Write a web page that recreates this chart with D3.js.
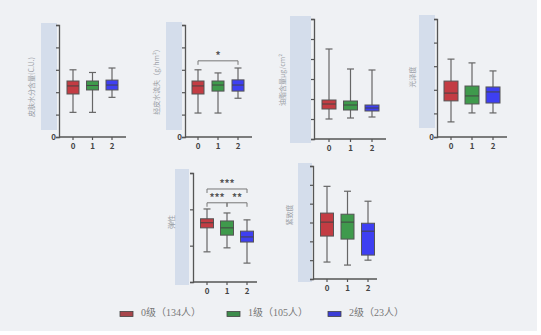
<!DOCTYPE html>
<html>
<head>
<meta charset="utf-8">
<script src="https://cdn.jsdelivr.net/npm/d3@7"></script>
<style>
  html, body { margin: 0; padding: 0; background: #fff; }
  svg { display: block; }
  text { font-family: "Noto Sans CJK SC", "Noto Sans", sans-serif; }
</style>
</head>
<body>
<div id="chart"></div>
<script>
const groups = ['0', '1', '2'];
const legendLabels = ['0级（134人）', '1级（105人）', '2级（23人）'];
const groupColors = ['#c33c43', '#3f9a4c', '#3e3ff2'];
const legendColors = ['#a8464c', '#3d8c4c', '#3b3dd6'];

const panelLabels = ['皮肤水分含量(C.U.)', '经皮水流失（g/hm²）', '油脂含量μg/cm²', '光泽度', '弹性', '紧致度'];

// each box: [whisker low, q1, median, q3, whisker high]
const moisture = [[1.1, 1.92, 2.28, 2.5, 3.0], [1.1, 2.1, 2.3, 2.5, 2.88], [1.77, 2.1, 2.32, 2.54, 3.08]];
const waterLoss = [[1.07, 1.92, 2.28, 2.5, 3.0], [1.07, 2.05, 2.32, 2.5, 2.86], [1.73, 2.05, 2.32, 2.55, 3.08]];
const sebum = [[1.0, 1.5, 1.75, 1.95, 4.5], [1.05, 1.45, 1.7, 1.9, 3.5], [1.1, 1.4, 1.55, 1.7, 3.45]];
const gloss = [[0.64, 1.53, 1.86, 2.37, 3.3], [1.02, 1.4, 1.74, 2.16, 3.14], [1.02, 1.44, 1.91, 2.12, 2.8]];
const elasticity = [[0.83, 1.49, 1.63, 1.74, 2.01], [0.94, 1.29, 1.49, 1.68, 1.9], [0.52, 1.1, 1.24, 1.4, 1.71]];
const firmness = [[0.9, 2.28, 3.02, 3.5, 4.92], [0.74, 2.12, 3.02, 3.44, 4.66], [1.0, 1.27, 2.54, 2.96, 4.13]];

const panelData = [moisture, waterLoss, sebum, gloss, elasticity, firmness];
const panelMax = [5, 5, 6, 5, 3, 6];

// significance brackets: [panel, from group, to group, height (data units), label]
const brackets = [
  [1, 0, 2, 3.4, '*'],
  [4, 0, 2, 2.56, '***'],
  [4, 0, 1, 2.18, '***'],
  [4, 1, 2, 2.18, '**'],
];

const WIDTH = 541;
const HEIGHT = 335;

const layout = [
  { ax: 59, top: 25, bottom: 137, xEnd: 126, c0: 73, c2: 112, zero: true, band: [41, 57, 23, 130], label: [32, 87], boxW: 12 },
  { ax: 185, top: 25, bottom: 137, xEnd: 252, c0: 198, c2: 238, zero: true, band: [166, 182, 22, 130], label: [157, 80], boxW: 12 },
  { ax: 314, top: 19, bottom: 139, xEnd: 386, c0: 329, c2: 372, zero: false, band: [290, 311, 16, 143], label: [283, 80], boxW: 14 },
  { ax: 437, top: 19, bottom: 137, xEnd: 507, c0: 451, c2: 493, zero: true, band: [419, 435, 15, 128], label: [413, 77], boxW: 14 },
  { ax: 193, top: 173, bottom: 282, xEnd: 257, c0: 207, c2: 247, zero: false, band: [175, 189, 169, 285], label: [172, 222], boxW: 13 },
  { ax: 313, top: 166, bottom: 279, xEnd: 377, c0: 327, c2: 368, zero: false, band: [298, 312, 163, 282], label: [290, 215], boxW: 13 },
];

const svg = d3.select('#chart')
  .append('svg')
  .attr('width', WIDTH)
  .attr('height', HEIGHT);

svg.append('rect')
  .attr('width', 537)
  .attr('height', 331)
  .attr('fill', '#eff1f4');

const axisColor = '#555';

layout.forEach((p, i) => {
  const g = svg.append('g');
  const y = d3.scaleLinear().domain([0, panelMax[i]]).range([p.bottom, p.top]);
  const x = d3.scalePoint().domain(groups).range([p.c0, p.c2]);

  g.append('rect')
    .attr('x', p.band[0])
    .attr('y', p.band[2])
    .attr('width', p.band[1] - p.band[0])
    .attr('height', p.band[3] - p.band[2])
    .attr('fill', '#d4ddeb');

  g.append('text')
    .attr('transform', `translate(${p.label[0]}, ${p.label[1]}) rotate(-90)`)
    .attr('text-anchor', 'middle')
    .attr('dominant-baseline', 'middle')
    .attr('font-size', 7)
    .attr('fill', '#9a9ea6')
    .text(panelLabels[i]);

  const yAxis = g.append('g')
    .attr('transform', `translate(${p.ax}, 0)`)
    .call(d3.axisLeft(y).ticks(panelMax[i]).tickSize(3).tickFormat((d) => (d === 0 && p.zero ? '0' : '')));
  yAxis.select('.domain').attr('stroke', axisColor).attr('stroke-width', 1.3);
  yAxis.selectAll('.tick line').attr('stroke', axisColor).attr('stroke-width', 1.2);
  yAxis.selectAll('.tick text').attr('fill', '#444').attr('font-size', 8).attr('font-weight', 'bold').attr('x', -3);

  g.append('line')
    .attr('x1', p.ax)
    .attr('x2', p.xEnd)
    .attr('y1', p.bottom)
    .attr('y2', p.bottom)
    .attr('stroke', axisColor)
    .attr('stroke-width', 1.3);

  const xTicks = g.selectAll('.xtick')
    .data(groups)
    .join('g')
    .attr('transform', (d) => `translate(${x(d)}, ${p.bottom})`);
  xTicks.append('line')
    .attr('y2', 3)
    .attr('stroke', axisColor)
    .attr('stroke-width', 1.2);
  xTicks.append('text')
    .attr('y', 12)
    .attr('text-anchor', 'middle')
    .attr('font-size', 8)
    .attr('font-weight', 'bold')
    .attr('fill', '#444')
    .text((d) => d);

  const boxes = g.selectAll('.box')
    .data(panelData[i])
    .join('g')
    .attr('transform', (_, j) => `translate(${x(groups[j])}, 0)`);

  boxes.append('line')
    .attr('y1', (d) => y(d[0]))
    .attr('y2', (d) => y(d[4]))
    .attr('stroke', '#666')
    .attr('stroke-width', 1.2);
  boxes.selectAll('.cap')
    .data((d) => [d[0], d[4]])
    .join('line')
    .attr('x1', -3.5)
    .attr('x2', 3.5)
    .attr('y1', (v) => y(v))
    .attr('y2', (v) => y(v))
    .attr('stroke', '#666')
    .attr('stroke-width', 1.2);
  boxes.append('rect')
    .attr('x', -p.boxW / 2)
    .attr('width', p.boxW)
    .attr('y', (d) => y(d[3]))
    .attr('height', (d) => y(d[1]) - y(d[3]))
    .attr('fill', (_, j) => groupColors[j])
    .attr('stroke', '#555')
    .attr('stroke-width', 1);
  boxes.append('line')
    .attr('x1', -p.boxW / 2)
    .attr('x2', p.boxW / 2)
    .attr('y1', (d) => y(d[2]))
    .attr('y2', (d) => y(d[2]))
    .attr('stroke', '#444')
    .attr('stroke-width', 1);

  brackets.filter((b) => b[0] === i).forEach(([, a, b, h, label]) => {
    const by = y(h);
    const xa = x(groups[a]);
    const xb = x(groups[b]);
    g.append('path')
      .attr('d', `M${xa},${by + 4}V${by}H${xb}V${by + 4}`)
      .attr('fill', 'none')
      .attr('stroke', '#777')
      .attr('stroke-width', 1);
    g.append('text')
      .attr('x', (xa + xb) / 2)
      .attr('y', by - 1.5)
      .attr('text-anchor', 'middle')
      .attr('font-size', 10)
      .attr('font-weight', 'bold')
      .attr('fill', '#555')
      .text(label);
  });
});

const legendX = [120, 227, 328];
const legend = svg.append('g')
  .selectAll('g')
  .data(legendLabels)
  .join('g')
  .attr('transform', (_, i) => `translate(${legendX[i]}, 314)`);
legend.append('rect')
  .attr('y', -2.5)
  .attr('width', 13)
  .attr('height', 5)
  .attr('fill', (_, i) => legendColors[i])
  .attr('stroke', '#444')
  .attr('stroke-width', 0.8);
legend.append('text')
  .attr('x', 21)
  .attr('y', 0)
  .attr('dominant-baseline', 'middle')
  .attr('font-size', 10)
  .attr('fill', '#777')
  .style('font-family', '"Liberation Serif", "Noto Sans CJK SC", serif')
  .text((d) => d);
</script>
</body>
</html>
